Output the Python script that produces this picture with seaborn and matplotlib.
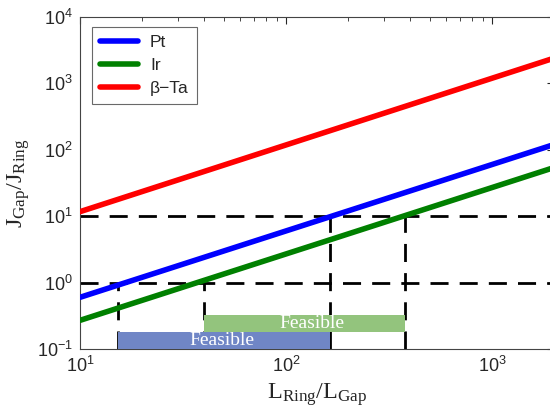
import numpy as np
import pandas as pd
import matplotlib
matplotlib.use("Agg")
import matplotlib.pyplot as plt
import seaborn as sns

# ---- data ----
x_ends = [10, 2000]
series_names = ["Pt", "Ir", "β−Ta"]
pt_vals = [0.6, 120]
ir_vals = [0.27, 54]
ta_vals = [11.7, 2400]
series_colors = ["#0000ff", "#008000", "#ff0000"]

h_levels = [1, 10]
v_x = [15.3, 164, 40, 378]
v_top = [1, 10, 1, 10]

feasible_pt = [15.3, 164]   # x range
feasible_pt_y = [0.1, 0.18]
feasible_ir = [40, 378]
feasible_ir_y = [0.18, 0.33]
feasible_label = "Feasible"
feasible_pt_text = [49, 0.135]
feasible_ir_text = [134, 0.24]

sns.set_theme(style="white")
plt.rcParams['font.family'] = ['Liberation Sans', 'DejaVu Sans']
plt.rcParams['mathtext.fontset'] = 'custom'
plt.rcParams['mathtext.rm'] = 'Liberation Serif'
plt.rcParams['mathtext.it'] = 'Liberation Serif:italic'

df = pd.DataFrame({
    "x": x_ends * 3,
    "y": pt_vals + ir_vals + ta_vals,
    "mat": [series_names[0]] * 2 + [series_names[1]] * 2 + [series_names[2]] * 2,
})

fig = plt.figure(figsize=(5.5, 4.12), dpi=100)
ax = fig.add_axes([80 / 550, 63 / 412, 474 / 550, 332 / 412])

# dashed guides
for h in h_levels:
    ax.axhline(h, color="black", lw=2, ls=(0, (6.5, 4)), zorder=2)
for xv, top in zip(v_x, v_top):
    ax.plot([xv, xv], [0.1, top], color="black", lw=2, ls=(0, (6.5, 4)), zorder=2)

# feasible bars (drawn over the guides)
ax.fill_between(feasible_pt, feasible_pt_y[0], feasible_pt_y[1], color="#7086c6", lw=0, zorder=3)
ax.fill_between(feasible_ir, feasible_ir_y[0], feasible_ir_y[1], color="#93c47d", lw=0, zorder=3)
ax.text(feasible_pt_text[0], feasible_pt_text[1], feasible_label, color="white",
        ha="center", va="center", fontsize=14, family="Liberation Serif", zorder=3.5)
ax.text(feasible_ir_text[0], feasible_ir_text[1], feasible_label, color="white",
        ha="center", va="center", fontsize=14, family="Liberation Serif", zorder=3.5)

sns.lineplot(data=df, x="x", y="y", hue="mat", palette=series_colors, lw=4,
             ax=ax, zorder=4)

ax.set_xscale("log")
ax.set_yscale("log")
ax.set_xlim(10, 2000)
ax.set_ylim(0.1, 1e4)

ax.tick_params(which="both", direction="in", top=True, right=True, labelsize=13)
ax.tick_params(which="major", length=5, width=0.8, pad=5)
ax.tick_params(which="minor", length=3, width=0.6)
for s in ax.spines.values():
    s.set_color("#444444")
    s.set_linewidth(0.8)

ax.set_xlabel(r"$\mathrm{L_{Ring}/L_{Gap}}$", fontsize=17.5, labelpad=4)
ax.set_ylabel(r"$\mathrm{J_{Gap}/J_{Ring}}$", fontsize=17.5, labelpad=4)

leg = ax.legend(loc="upper left", fontsize=12.5, frameon=True, fancybox=False,
                edgecolor="#444444", handlelength=2.2, borderpad=0.45,
                labelspacing=0.45, handletextpad=0.7, borderaxespad=0,
                bbox_to_anchor=(0.025, 0.97))
leg.get_frame().set_linewidth(0.8)
for line in leg.get_lines():
    line.set_linewidth(4)

fig.savefig("out.png", dpi=100)
